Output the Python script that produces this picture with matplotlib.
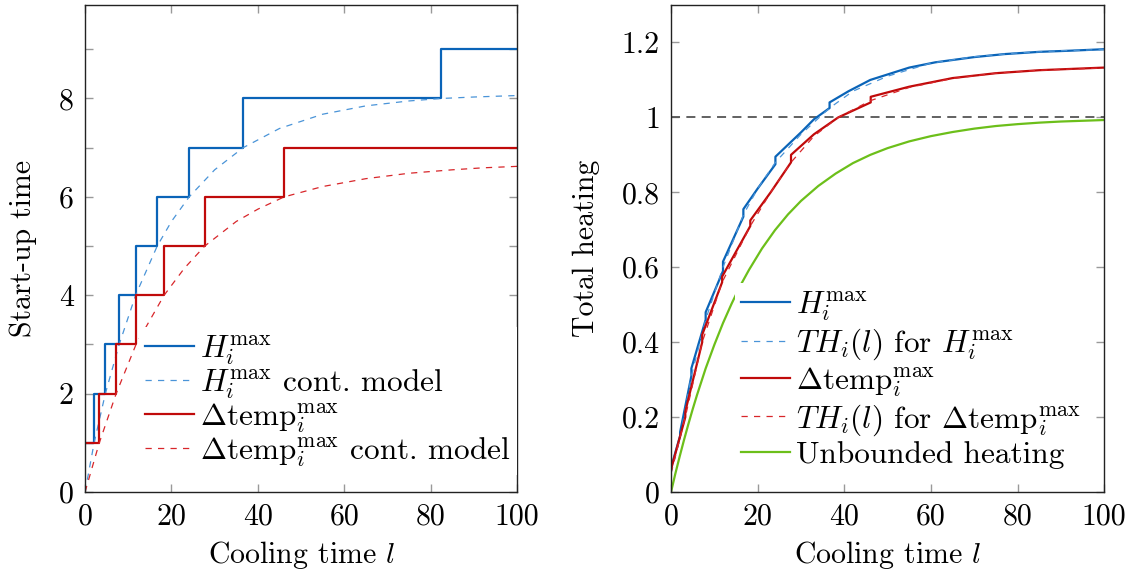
import matplotlib
matplotlib.use("Agg")
import matplotlib.pyplot as plt
from matplotlib.ticker import FuncFormatter

plt.rcParams['font.family'] = 'serif'
plt.rcParams['font.serif'] = ['cmr10', 'DejaVu Serif']
plt.rcParams['mathtext.fontset'] = 'cm'
plt.rcParams['axes.formatter.use_mathtext'] = True
plt.rcParams['font.size'] = 21.5

# ---- left panel: start-up time (steps switch where the model hits an integer)
h_step_l = [0, 2.1, 4.7, 7.9, 11.7, 16.7, 24.1, 36.6, 82.4, 100]
h_step_v = [1, 2, 3, 4, 5, 6, 7, 8, 9, 9]
dt_step_l = [0, 3.3, 7.2, 11.8, 18.3, 27.7, 46.1, 100]
dt_step_v = [1, 2, 3, 4, 5, 6, 7, 7]

h_model_l = [0, 2.1, 4.7, 7.9, 11.7, 16.7, 20, 24.1, 30, 36.6, 45, 55, 65, 75, 82.4, 90, 100]
h_model_v = [0, 1, 2, 3, 4, 5, 5.5, 6, 6.55, 7, 7.39, 7.68, 7.85, 7.95, 8.0, 8.03, 8.06]
dt_model_l = [0, 3.3, 7.2, 11.8, 18.3, 23, 27.7, 35, 40, 46.1, 55, 65, 75, 85, 92, 100]
dt_model_v = [0, 1, 2, 3, 4, 4.55, 5, 5.5, 5.75, 6, 6.21, 6.37, 6.48, 6.55, 6.59, 6.62]

# ---- right panel: total heating
h_th_l = [0, 2.1, 2.1, 4.7, 4.7, 8, 8, 12, 12, 16.7, 16.7, 20, 24.1, 24.1, 30, 33,
          36.6, 36.6, 41, 46, 55, 61, 70, 77, 85, 92, 100]
h_th_v = [0.065, 0.15, 0.16, 0.31, 0.33, 0.46, 0.48, 0.59, 0.615, 0.735, 0.755, 0.81,
          0.875, 0.895, 0.96, 0.995, 1.025, 1.04, 1.07, 1.10, 1.133, 1.147, 1.161,
          1.169, 1.175, 1.178, 1.182]
h_thm_l = [0, 2, 4.7, 8, 12, 16.7, 20, 24.1, 30, 36.6, 42, 50, 60, 70, 80, 90, 100]
h_thm_v = [0.05, 0.14, 0.31, 0.46, 0.60, 0.74, 0.81, 0.88, 0.955, 1.025, 1.07, 1.11,
           1.145, 1.162, 1.172, 1.178, 1.181]

dt_th_l = [0, 3.3, 3.3, 7.2, 7.2, 11.8, 11.8, 18.3, 18.3, 23, 27.7, 27.7, 33, 38.6,
           46.1, 46.1, 55, 65, 75, 85, 100]
dt_th_v = [0.06, 0.20, 0.215, 0.40, 0.42, 0.56, 0.575, 0.71, 0.725, 0.80, 0.88, 0.90,
           0.955, 1.0, 1.04, 1.055, 1.082, 1.105, 1.118, 1.126, 1.133]
dt_thm_l = [0, 3.3, 7.2, 11.8, 18.3, 23, 27.7, 33, 38.6, 46.1, 55, 65, 75, 85, 100]
dt_thm_v = [0.05, 0.20, 0.40, 0.56, 0.71, 0.80, 0.88, 0.95, 1.0, 1.045, 1.08, 1.104,
            1.118, 1.126, 1.132]

free_l = [0, 1, 2, 3, 4, 5, 6, 8, 10, 12, 14, 16, 18, 21, 24, 27, 30, 34, 38, 42, 46,
          50, 55, 60, 65, 70, 75, 80, 85, 90, 95, 100]
free_v = [0, 0.049, 0.095, 0.139, 0.181, 0.221, 0.259, 0.330, 0.393, 0.451, 0.503,
          0.551, 0.593, 0.650, 0.699, 0.741, 0.777, 0.817, 0.850, 0.878, 0.900, 0.918,
          0.936, 0.950, 0.961, 0.970, 0.977, 0.982, 0.986, 0.989, 0.991, 0.993]

BLUE = '#0a64b8'
LBLUE = '#4a94d8'
RED = '#c00a0a'
LRED = '#d8262a'
GREEN = '#6cbf1a'


def style_axes(ax):
    ax.tick_params(which='both', direction='in', length=6, width=1, color='#999999',
                   top=True, right=True, pad=8)
    for s in ax.spines.values():
        s.set_color('#222222')
        s.set_linewidth(1)
    ax.yaxis.set_major_formatter(FuncFormatter(lambda v, p: '%g' % v))
    ax.xaxis.set_major_formatter(FuncFormatter(lambda v, p: '%g' % v))


leg_kw = dict(borderaxespad=0, frameon=True, fancybox=False, framealpha=1,
              edgecolor='none', handlelength=1.55, handletextpad=0.2,
              borderpad=0.2, fontsize=22.5)

fig = plt.figure(figsize=(11.31, 5.77), dpi=100)
ax1 = fig.add_axes([0.0752, 0.1473, 0.382, 0.844])
ax2 = fig.add_axes([0.5933, 0.1473, 0.383, 0.844])

ax1.step(h_step_l, h_step_v, where='post', color=BLUE, lw=1.6, label=r'$H_i^{\max}$')
ax1.plot(h_model_l, h_model_v, color=LBLUE, lw=0.9, dashes=(5, 5),
         label=r'$H_i^{\max}$ cont. model')
ax1.step(dt_step_l, dt_step_v, where='post', color=RED, lw=1.6,
         label=r'$\Delta\mathrm{temp}_i^{\max}$')
ax1.plot(dt_model_l, dt_model_v, color=LRED, lw=0.9, dashes=(5, 5),
         label=r'$\Delta\mathrm{temp}_i^{\max}$ cont. model')
ax1.set_xlim(0, 100)
ax1.set_ylim(0, 9.9)
ax1.set_xticks([0, 20, 40, 60, 80, 100])
ax1.set_yticks([0, 2, 4, 6, 8])
ax1.set_yticks([1, 3, 5, 7, 9], minor=True)
ax1.set_xlabel(r'Cooling time $l$', labelpad=6)
ax1.set_ylabel('Start-up time', labelpad=16)
style_axes(ax1)
ax1.legend(loc='lower right', bbox_to_anchor=(1.0, 0.035), labelspacing=0.0, **leg_kw)

ax2.axhline(1.0, color='#555555', lw=1.3, dashes=(5, 3.5))
ax2.plot(h_th_l, h_th_v, color=BLUE, lw=1.6, label=r'$H_i^{\max}$')
ax2.plot(h_thm_l, h_thm_v, color=LBLUE, lw=0.9, dashes=(5, 5),
         label=r'$TH_i(l)$ for $H_i^{\max}$')
ax2.plot(dt_th_l, dt_th_v, color=RED, lw=1.6, label=r'$\Delta\mathrm{temp}_i^{\max}$')
ax2.plot(dt_thm_l, dt_thm_v, color=LRED, lw=0.9, dashes=(5, 5),
         label=r'$TH_i(l)$ for $\Delta\mathrm{temp}_i^{\max}$')
ax2.plot(free_l, free_v, color=GREEN, lw=1.6, label='Unbounded heating')
ax2.set_xlim(0, 100)
ax2.set_ylim(0, 1.3)
ax2.set_xticks([0, 20, 40, 60, 80, 100])
ax2.set_yticks([0, 0.2, 0.4, 0.6, 0.8, 1.0, 1.2])
ax2.set_xlabel(r'Cooling time $l$', labelpad=6)
ax2.set_ylabel('Total heating', labelpad=16)
style_axes(ax2)
ax2.legend(loc='lower left', bbox_to_anchor=(0.148, 0.035), labelspacing=0.1, **leg_kw)

fig.savefig('out.png', dpi=100)
